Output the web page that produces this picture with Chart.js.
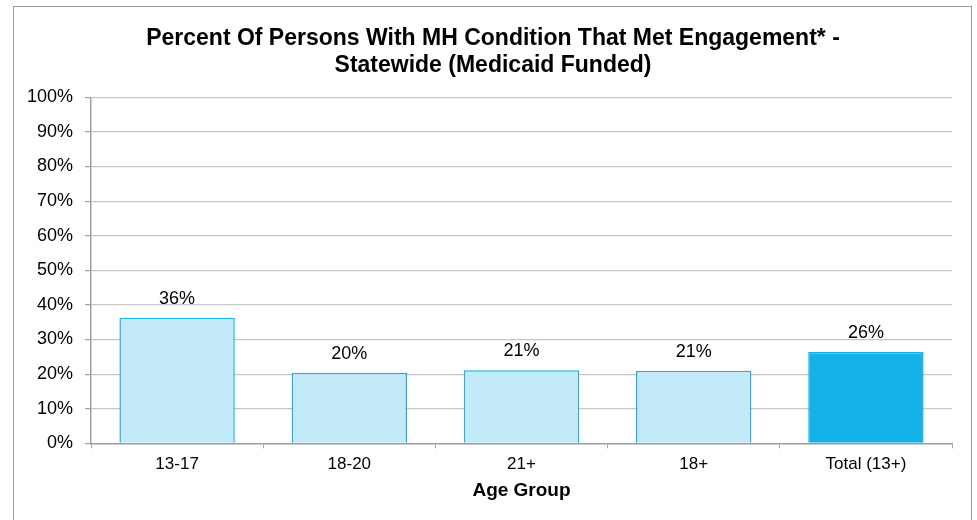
<!DOCTYPE html>
<html>
<head>
<meta charset="utf-8">
<script src="https://cdn.jsdelivr.net/npm/chart.js@4/dist/chart.umd.min.js"></script>
<style>
  html, body { margin: 0; padding: 0; background: #ffffff; }
  canvas { display: block; }
</style>
</head>
<body>
<canvas id="c" width="977" height="520"></canvas>
<script>
const titleLines = ['Percent Of Persons With MH Condition That Met Engagement* -', 'Statewide (Medicaid Funded)'];
const categories = ['13-17', '18-20', '21+', '18+', 'Total (13+)'];
const values = [36.3, 20.4, 21.1, 21.0, 26.4];
const yTickValues = [0, 10, 20, 30, 40, 50, 60, 70, 80, 90, 100];
const xAxisTitle = 'Age Group';

const FONT = "'Liberation Sans', Arial, Helvetica, sans-serif";
const LIGHT_FILL = '#c3eaf9';
const LIGHT_BORDER = '#1ab2ea';
const DARK_FILL = '#14b2e8';

const framePlugin = {
  id: 'frame',
  beforeDraw(chart) {
    const ctx = chart.ctx;
    ctx.save();
    ctx.fillStyle = '#ffffff';
    ctx.fillRect(0, 0, chart.width, chart.height);
    ctx.strokeStyle = '#9a9a9a';
    ctx.lineWidth = 1;
    ctx.strokeRect(13.5, 6.5, 958, 530);
    ctx.restore();
  }
};

const valueLabelPlugin = {
  id: 'valueLabels',
  afterDatasetsDraw(chart) {
    const ctx = chart.ctx;
    const meta = chart.getDatasetMeta(0);
    ctx.save();
    ctx.font = '18px ' + FONT;
    ctx.fillStyle = '#000000';
    ctx.textAlign = 'center';
    ctx.textBaseline = 'middle';
    meta.data.forEach((bar, i) => {
      const p = bar.getProps(['x', 'y'], true);
      ctx.fillText(Math.round(values[i]) + '%', p.x, p.y - 19);
    });
    ctx.restore();
  }
};

new Chart(document.getElementById('c'), {
  type: 'bar',
  data: {
    labels: categories,
    datasets: [{
      data: values,
      backgroundColor: (c) => c.dataIndex === categories.length - 1 ? DARK_FILL : LIGHT_FILL,
      borderColor: (c) => c.dataIndex === categories.length - 1 ? DARK_FILL : LIGHT_BORDER,
      borderWidth: 1.5,
      barPercentage: 0.67,
      categoryPercentage: 1.0
    }]
  },
  options: {
    responsive: false,
    animation: false,
    devicePixelRatio: 1,
    layout: { padding: { left: 14, right: 5, top: 0, bottom: 0 } },
    plugins: {
      legend: { display: false },
      tooltip: { enabled: false },
      title: {
        display: true,
        text: titleLines,
        color: '#000000',
        font: { family: FONT, size: 23, weight: 'bold', lineHeight: 1.174 },
        padding: { top: 25.5, bottom: 17.8 }
      }
    },
    scales: {
      x: {
        type: 'category',
        offset: true,
        grid: {
          offset: true,
          drawOnChartArea: false,
          drawTicks: true,
          tickLength: 5,
          color: '#a0a0a0'
        },
        border: { display: true, color: '#a0a0a0', width: 1.5 },
        ticks: {
          color: '#000000',
          padding: 6,
          font: { family: FONT, size: 17 }
        },
        title: {
          display: true,
          text: xAxisTitle,
          color: '#000000',
          font: { family: FONT, size: 19, weight: 'bold', lineHeight: 1.2 },
          padding: { top: 0, bottom: 18 }
        },
        afterFit(s) { s.height = 520 - 443.3; }
      },
      y: {
        type: 'linear',
        position: 'left',
        min: 0,
        max: 100,
        afterBuildTicks(s) { s.ticks = yTickValues.map(v => ({ value: v })); },
        grid: {
          color: '#c6c6c6',
          lineWidth: 1.2,
          drawTicks: true,
          tickLength: 6,
          tickColor: '#a0a0a0'
        },
        border: { display: true, color: '#a0a0a0', width: 1.5 },
        ticks: {
          color: '#000000',
          padding: 12,
          font: { family: FONT, size: 18 },
          callback: (v) => v + '%'
        },
        afterFit(s) { s.width = 91 - 14; }
      },
      yRight: {
        type: 'linear',
        position: 'right',
        display: true,
        min: 0,
        max: 100,
        grid: { display: false, drawTicks: false },
        border: { display: false },
        ticks: { display: false },
        afterFit(s) { s.width = 20; }
      }
    }
  },
  plugins: [framePlugin, valueLabelPlugin]
});
</script>
</body>
</html>
